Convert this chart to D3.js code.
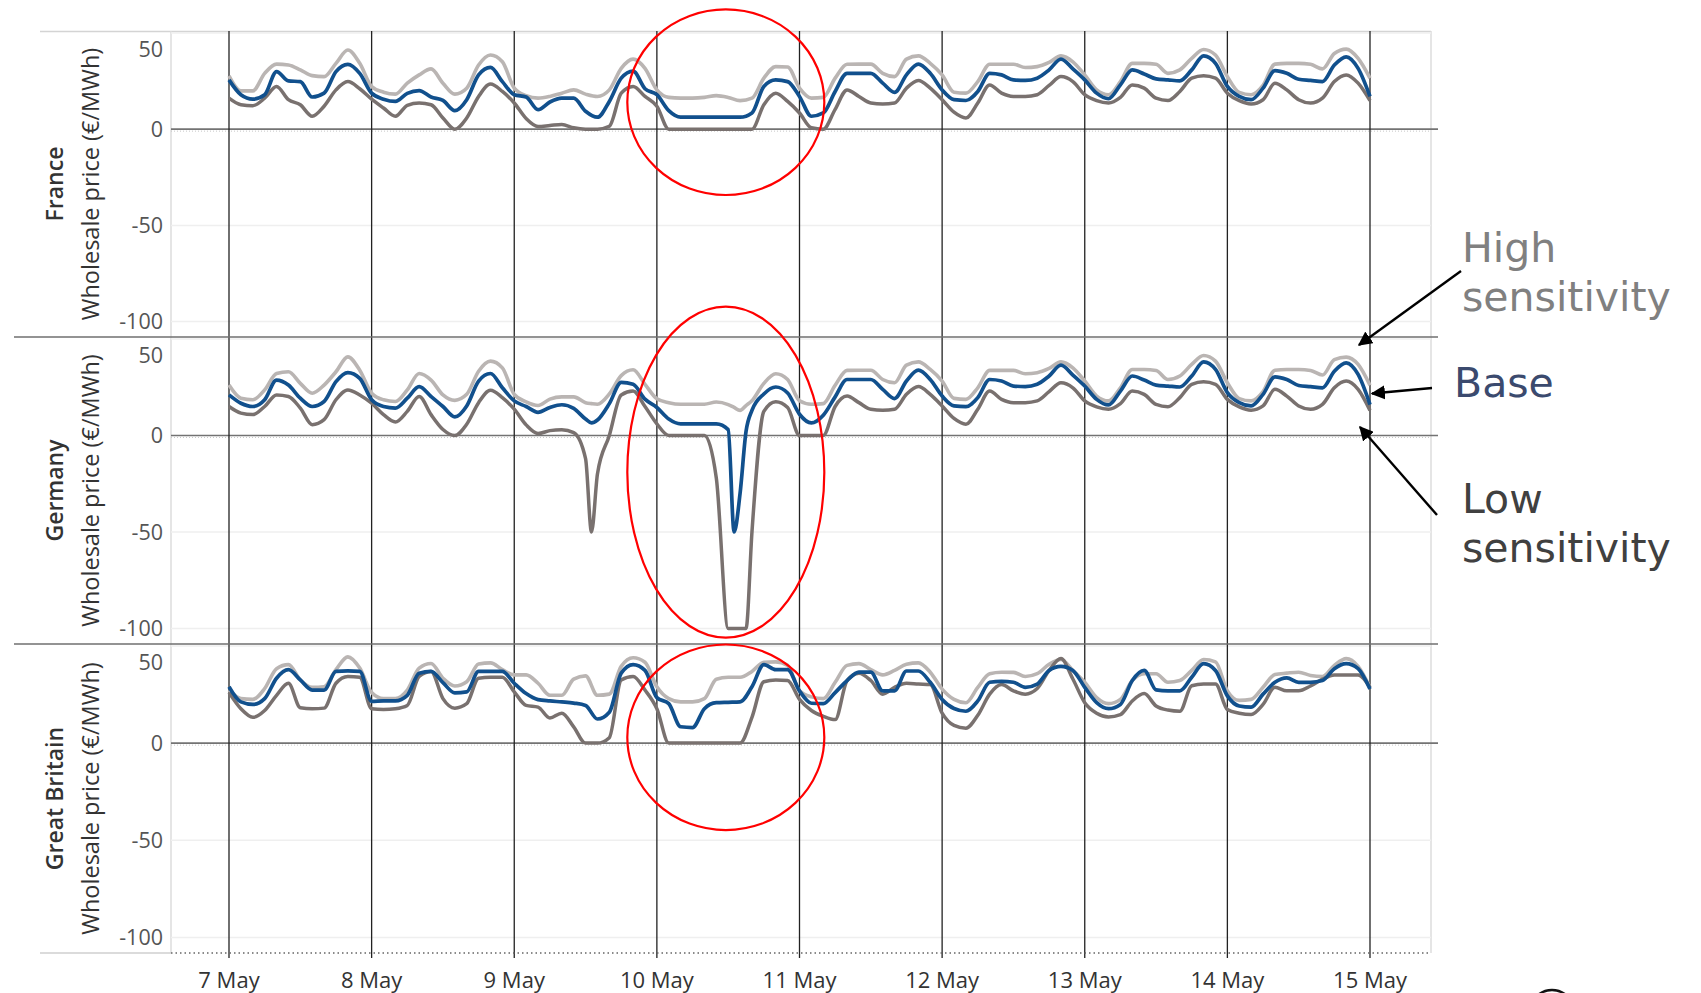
<!DOCTYPE html>
<html>
<head>
<meta charset="utf-8">
<script src="https://cdn.jsdelivr.net/npm/d3@7"></script>
<style>
  body { margin: 0; background: #fff; }
  svg text { font-family: "Open Sans", "Noto Sans", sans-serif; }
</style>
</head>
<body>
<div id="chart"></div>
<script>
// hours after 7 May 00:00, every 2 hours
var hours = d3.range(0, 193, 2);
var dayHours = [0, 24, 48, 72, 96, 120, 144, 168, 192];
var dayLabels = ["7 May", "8 May", "9 May", "10 May", "11 May", "12 May", "13 May", "14 May", "15 May"];
var yTicks = [50, 0, -50, -100];
var countries = ["France", "Germany", "Great Britain"];

// France (EUR/MWh)
var frBase = [25.6,17.9,15.6,17.9,29.9,25.1,24.7,16.7,18.7,29.9,33.7,29,
  18.7,15.6,14.4,18.6,20,16.7,14.9,9.6,15.3,28.2,32.1,24.7,
  17.9,16.7,10.1,14.1,16.1,16.1,9.3,6.2,14.4,26.5,30.2,21,
  17.9,9.6,6.2,6.2,6.2,6.2,6.2,6.2,8.4,22.2,25.6,24.7,
  17,6.7,8.4,19.6,29,29,29,23.9,19.1,28.2,33.8,29,
  20.4,15.3,14.9,19.6,29,28.2,25.6,25.3,26.5,30.8,36.4,31.3,
  25.6,18.7,15.8,23,30.8,28.7,26.1,25.6,25.1,30.8,38.1,34.2,
  22.2,17,15.3,21.3,30.4,29,25.9,25.3,24.7,33.3,37.6,31.6,
  17];
var frHigh = [27.7,19.9,19.9,29,33.8,33.3,30.8,27.8,27.3,34.2,41.1,34.2,
  22.2,19.2,18.2,23.9,28.2,31.3,23.9,18.2,21.3,33.3,38.5,35,
  21.3,17.4,16.1,17,18.7,20.4,18.2,17,20.4,31.6,36.4,31.6,
  20.4,16.5,16.1,16.1,16.5,17.4,16.5,14.8,16.1,26.5,32.5,32.3,
  21.3,16.1,16.5,26.5,33.7,33.8,33.8,29,27.3,36.4,38.1,34.2,
  28.2,19.2,18.7,24.7,33.7,33.7,33.7,32,32.5,34.7,38.1,35,
  28.2,20.4,17.9,24.7,34.2,34.2,33.7,29,30.8,36.8,41.4,38.5,
  27.3,19.1,17.9,22.7,33.8,34.2,34.2,33.7,31.3,39.3,41.6,36.8,
  26.5];
var frLow = [16.1,12.7,12.2,16.1,22.2,15.3,12.7,6.7,11.9,20.4,24.7,21,
  15.6,11,6.7,12.4,13.6,12.7,5.8,0,5.8,17,23.4,19.6,
  13.6,5.5,1.4,1.9,2.4,0.7,0,0,1.5,18.7,22.2,17,
  11.9,0,0,0,0,0,0,0,0,12.7,18.7,14.4,
  8.4,0.7,0,10.3,20.4,17,13.6,13.1,13.6,21.3,25.3,21.3,
  15.3,8.8,5.8,13.6,23,18.7,17,17,17.9,22.7,27.3,24.7,
  17.9,14.8,13.6,16.5,23,21.3,16.1,14.9,19.6,26.5,27.8,26.5,
  18.7,14.8,13.1,15.3,23.9,20.4,15.3,13.6,16.1,24.7,28.2,23.9,
  14.8];

// Germany on the same grid, plus the short negative spikes
var deBase = [21,16.7,15,18.5,28.7,26.1,19.3,15,17.6,27.9,32.6,29.6,
  18.5,15,14.2,19.3,25.3,20.2,15,9.6,15.3,28.2,32.1,24.7,
  17.9,15,12,14.5,15.9,14,8.5,8,16.5,27.5,26.5,18.8,
  14.5,8.5,6,6,6,6,3,-30,13,21.5,25.1,22,
  11,6.5,10.5,20,29,29,29,23.9,19.1,28.2,33.8,29,
  20.4,15.3,14.9,19.6,29,28.2,25.6,25.3,26.5,30.8,36.4,31.3,
  25.6,18.7,15.8,23,30.8,28.7,26.1,25.6,25.1,30.8,38.1,34.2,
  22.2,17,15.3,21.3,30.4,29,25.9,25.3,24.7,33.3,37.6,31.6,
  16];
var deHigh = [26.1,19.3,18.5,23.6,32.1,33,27,21.9,26.1,33,40.7,33.8,
  21.9,18.5,17.6,23.6,32.1,28.7,21,18.2,21.3,33.3,38.5,35,
  21.3,17.4,15.5,18.8,20,20,17,16.2,21.5,31,34,26.5,
  19,17,16.2,16.2,16.2,17.3,16,13,18,27,32,29,
  18,16.2,16.5,26,33.7,33.8,33.8,29,27.3,36.4,38.1,34.2,
  28.2,19.2,18.7,24.7,33.7,33.7,33.7,32,32.5,34.7,38.1,35,
  28.2,20.4,17.9,24.7,34.2,34.2,33.7,29,30.8,36.8,41.4,38.5,
  27.3,19.1,17.9,22.7,33.8,34.2,34.2,33.7,31.3,39.3,40.6,36.8,
  26];
var deLow = [15,11.6,10.8,15,21,20.2,14.2,5.6,8.2,18.5,23.6,21,
  16.7,10.8,7,12.5,20.2,10.8,3.1,0,5.8,17,23.4,19.6,
  13.6,5.5,1,2.5,3,1.5,-12,-20,0,21,23,15,
  6,0,0,0,0,-22,-100,-100,-50,12.5,17.5,14.5,
  0,0,0,15,20.4,17,13.6,13.1,13.6,21.3,25.3,21.3,
  15.3,8.8,5.8,13.6,23,18.7,17,17,17.9,22.7,27.3,24.7,
  17.9,14.8,13.6,16.5,23,21.3,16.1,14.9,19.6,26.5,27.8,26.5,
  18.7,14.8,13.1,15.3,23.9,20.4,15.3,13.6,16.1,24.7,28.2,23.9,
  13];
var deExtraHours = [61, 85, 87];
var deBaseExtra = [6.5, -50, 2];
var deHighExtra = [16.5, 14.5, 15.5];
var deLowExtra = [-50, -100, -100];

// Great Britain
var gbBase = [29,21.2,19.9,22.9,33.4,37.8,32.5,27.3,27.3,36.9,37.2,36.9,
  21.5,21.7,21.7,24.6,36,36.9,31.1,25.9,26.4,36.9,36.9,36.9,
  30.8,25.5,22.4,21.7,21.2,20.6,19.4,12.4,15.9,36,40.4,37.4,
  23.4,20.3,8.4,8,17.7,20.8,21,21.2,29,40.4,37.8,37.8,
  26.9,20.5,20.3,26,32.2,36.5,36.5,26.9,26.9,37.1,37.1,31.3,
  22.5,17.8,16.4,21.7,31.3,31.8,31.3,28.7,30.4,37.4,39.5,37.4,
  28.7,20.8,17.7,19.9,32.2,37.4,27.4,26.9,26.9,33.9,40.9,37.4,
  24.3,19.1,18.5,25.2,31.3,33.6,31.3,31.3,32.2,38.3,40.9,38.3,
  27.8];
var gbHigh = [27.3,22.9,22.5,28.1,38.3,40.4,32.5,28.7,29,37.8,44.4,38.6,
  26,22.9,22.9,27.3,38.6,41,33.4,29.4,31.6,40.7,41.3,37.8,
  35.1,35.1,30.8,24.6,24.6,32.9,34.6,24.6,25.2,39.5,43.9,41.6,
  29,22.9,21.2,21.2,22.9,32.9,33.9,33.9,36.9,41.6,41.8,40,
  26.9,23.8,22.9,31.3,40,40.9,37.8,35.1,37.4,40.6,41.3,36.5,
  27.8,22.5,20.8,28.7,35.7,36.5,36.4,34.3,35.7,40.6,43,37.4,
  31.3,23.4,20.3,22.5,32.2,35.7,35.7,31.3,32.2,37.4,43,41.8,
  26.9,22,22.5,28.7,35.3,36,36.5,34.8,34.3,40,43.5,39.5,
  28.7];
var gbLow = [26,17.7,13.3,16.8,24.6,30.8,18.2,17.7,18,30.8,34.3,33.9,
  17.7,17.3,17.7,19.4,34.3,36.9,22.9,18,20.3,33.4,33.9,33.9,
  26.4,19.4,18.5,12.9,15.4,8.4,0,0,2.8,32.5,34.3,27.3,
  17.7,0,0,0,0,0,0,0,13.3,31.6,32.5,32.2,
  22.5,16.8,13.8,12.1,32.2,36,32.2,25.2,28.7,30.8,30.4,30.1,
  15.4,9.1,7.7,14.3,25.2,30.1,26.9,25.2,28.1,37.4,43.5,33,
  20.8,15.4,13.5,14.7,21.7,25.5,19.1,17,16.4,29.5,30.4,30.4,
  17.3,15.4,14.7,19.9,28.7,26.9,26.9,29.4,32.9,35.1,35.1,35.1,
  28.7];

// annotation circles: centre hour and price in each panel
var circleHour = 83.6;
var circlePrice = [14, -19, 3];

var W = 1701, H = 993;
var plotLeft = 171, plotRight = 1431;
var panelTop = [31, 337, 644], panelBottom = [337, 644, 953];
var colHigh = "#bab5b3", colLow = "#79716f", colBase = "#11508d";

var svg = d3.select("#chart").append("svg")
    .attr("width", W).attr("height", H)
    .style("background", "#fff");

var defs = svg.append("defs");
defs.append("marker")
    .attr("id", "arrow")
    .attr("viewBox", "0 0 10 10")
    .attr("refX", 9).attr("refY", 5)
    .attr("markerWidth", 6).attr("markerHeight", 6)
    .attr("markerUnits", "strokeWidth")
    .attr("orient", "auto")
  .append("path")
    .attr("d", "M0,0L10,5L0,10z")
    .attr("fill", "#000");

var x = d3.scaleLinear().domain([0, 192]).range([229, 1370]);

function withExtra(vals, extra) {
  var pts = hours.map(function(h, i) { return [h, vals[i]]; });
  deExtraHours.forEach(function(h, i) { pts.push([h, extra[i]]); });
  return pts.sort(function(a, b) { return a[0] - b[0]; });
}
function onGrid(vals) {
  return hours.map(function(h, i) { return [h, vals[i]]; });
}

var panels = [
  { name: countries[0], high: onGrid(frHigh), low: onGrid(frLow), base: onGrid(frBase) },
  { name: countries[1], high: withExtra(deHigh, deHighExtra), low: withExtra(deLow, deLowExtra), base: withExtra(deBase, deBaseExtra) },
  { name: countries[2], high: onGrid(gbHigh), low: onGrid(gbLow), base: onGrid(gbBase) }
];

// outer frame
svg.append("line").attr("x1", 40).attr("x2", plotRight).attr("y1", 31.5).attr("y2", 31.5)
    .style("stroke", "#d4d4d4").style("stroke-width", 1.5);
svg.append("line").attr("x1", plotLeft).attr("x2", plotLeft).attr("y1", 31).attr("y2", 953)
    .style("stroke", "#dcdcdc").style("stroke-width", 1.5);
svg.append("line").attr("x1", plotRight).attr("x2", plotRight).attr("y1", 31).attr("y2", 953)
    .style("stroke", "#dcdcdc").style("stroke-width", 1.5);
svg.append("line").attr("x1", 40).attr("x2", plotLeft).attr("y1", 953).attr("y2", 953)
    .style("stroke", "#cfcfcf").style("stroke-width", 1.5);

panels.forEach(function(p, k) {
  var y = d3.scaleLinear().domain([-108, 51]).range([panelBottom[k], panelTop[k]]);
  var g = svg.append("g");

  // light gridlines
  g.selectAll(".grid").data(yTicks.filter(function(t) { return t !== 0; }))
    .enter().append("line")
      .attr("x1", plotLeft).attr("x2", plotRight)
      .attr("y1", function(d) { return y(d); }).attr("y2", function(d) { return y(d); })
      .style("stroke", "#efefef").style("stroke-width", 1.5);

  // zero line
  g.append("line").attr("x1", plotLeft).attr("x2", plotRight)
      .attr("y1", y(0) + 2).attr("y2", y(0) + 2)
      .style("stroke", "#c8c8c8").style("stroke-dasharray", "1,2");
  g.append("line").attr("x1", plotLeft).attr("x2", 1438)
      .attr("y1", y(0)).attr("y2", y(0))
      .style("stroke", "#737373").style("stroke-width", 1.6);

  // tick labels
  g.selectAll(".tick").data(yTicks).enter().append("text")
      .attr("x", 163)
      .attr("y", function(d) { return y(d) + (d === 50 ? 16 : 0); })
      .attr("dy", "0.36em")
      .attr("text-anchor", "end")
      .style("font-size", "21.5px")
      .style("fill", "#555")
      .text(function(d) { return d; });

  // axis title
  var cy = (panelTop[k] + panelBottom[k]) / 2;
  g.append("text")
      .attr("transform", "translate(55," + cy + ") rotate(-90)")
      .attr("dy", "0.35em")
      .attr("text-anchor", "middle")
      .style("font-size", "23px").style("font-weight", 600).style("fill", "#333")
      .text(p.name);
  g.append("text")
      .attr("transform", "translate(91," + cy + ") rotate(-90)")
      .attr("dy", "0.35em")
      .attr("text-anchor", "middle")
      .style("font-size", "23.5px").style("fill", "#333")
      .text("Wholesale price (€/MWh)");

  p.y = y;
});

// day lines
svg.selectAll(".day").data(dayHours).enter().append("line")
    .attr("x1", function(d) { return x(d); }).attr("x2", function(d) { return x(d); })
    .attr("y1", 31).attr("y2", 958)
    .style("stroke", "#222").style("stroke-width", 1.3);

// series
var line = d3.line().curve(d3.curveMonotoneX).x(function(d) { return x(d[0]); });
panels.forEach(function(p, k) {
  line.y(function(d) { return p.y(d[1]); });
  [["high", colHigh, 3.6], ["low", colLow, 3.5], ["base", colBase, 3.7]].forEach(function(s) {
    svg.append("path")
        .attr("d", line(p[s[0]]))
        .style("fill", "none")
        .style("stroke", s[1])
        .style("stroke-width", s[2])
        .style("stroke-linejoin", "round");
  });
});

// panel separators
[337, 644].forEach(function(yy) {
  svg.append("line").attr("x1", 14).attr("x2", 1438).attr("y1", yy).attr("y2", yy)
      .style("stroke", "#6f6f6f").style("stroke-width", 1.6);
});

// bottom axis
svg.append("line").attr("x1", plotLeft).attr("x2", plotRight).attr("y1", 953).attr("y2", 953)
    .style("stroke", "#666").style("stroke-width", 1.5).style("stroke-dasharray", "1.5,3");
svg.selectAll(".xlab").data(dayHours).enter().append("text")
    .attr("x", function(d) { return x(d); })
    .attr("y", 980)
    .attr("dy", "0.35em")
    .attr("text-anchor", "middle")
    .style("font-size", "22px")
    .style("fill", "#333")
    .text(function(d, i) { return dayLabels[i]; });

// red circles
panels.forEach(function(p, k) {
  svg.append("ellipse")
      .attr("cx", x(circleHour))
      .attr("cy", p.y(circlePrice[k]))
      .attr("rx", 98.5)
      .attr("ry", k === 1 ? 165.5 : 92.8)
      .style("fill", "none")
      .style("stroke", "#f00")
      .style("stroke-width", 2.2);
});

// legend labels and arrows
var legend = [
  { lines: ["High", "sensitivity"], x: 1462, y: 262, color: "#808080" },
  { lines: ["Base"], x: 1454, y: 397, color: "#3b4a6e" },
  { lines: ["Low", "sensitivity"], x: 1462, y: 513, color: "#404040" }
];
legend.forEach(function(l) {
  var t = svg.append("text")
      .attr("x", l.x).attr("y", l.y)
      .style("font-family", "'DejaVu Sans', Verdana, sans-serif")
      .style("font-size", "41px")
      .style("fill", l.color);
  l.lines.forEach(function(s, i) {
    t.append("tspan").attr("x", l.x).attr("dy", i === 0 ? 0 : 49).text(s);
  });
});

var arrows = [
  [1461, 271, 1359, 345],
  [1432, 388, 1372, 393.5],
  [1437, 515, 1360, 427]
];
arrows.forEach(function(a) {
  svg.append("line")
      .attr("x1", a[0]).attr("y1", a[1]).attr("x2", a[2]).attr("y2", a[3])
      .style("stroke", "#000").style("stroke-width", 2.4)
      .attr("marker-end", "url(#arrow)");
});

// partial circle at the bottom edge
svg.append("circle").attr("cx", 1552).attr("cy", 1012).attr("r", 22)
    .style("fill", "none").style("stroke", "#111").style("stroke-width", 2.5);
</script>
</body>
</html>
